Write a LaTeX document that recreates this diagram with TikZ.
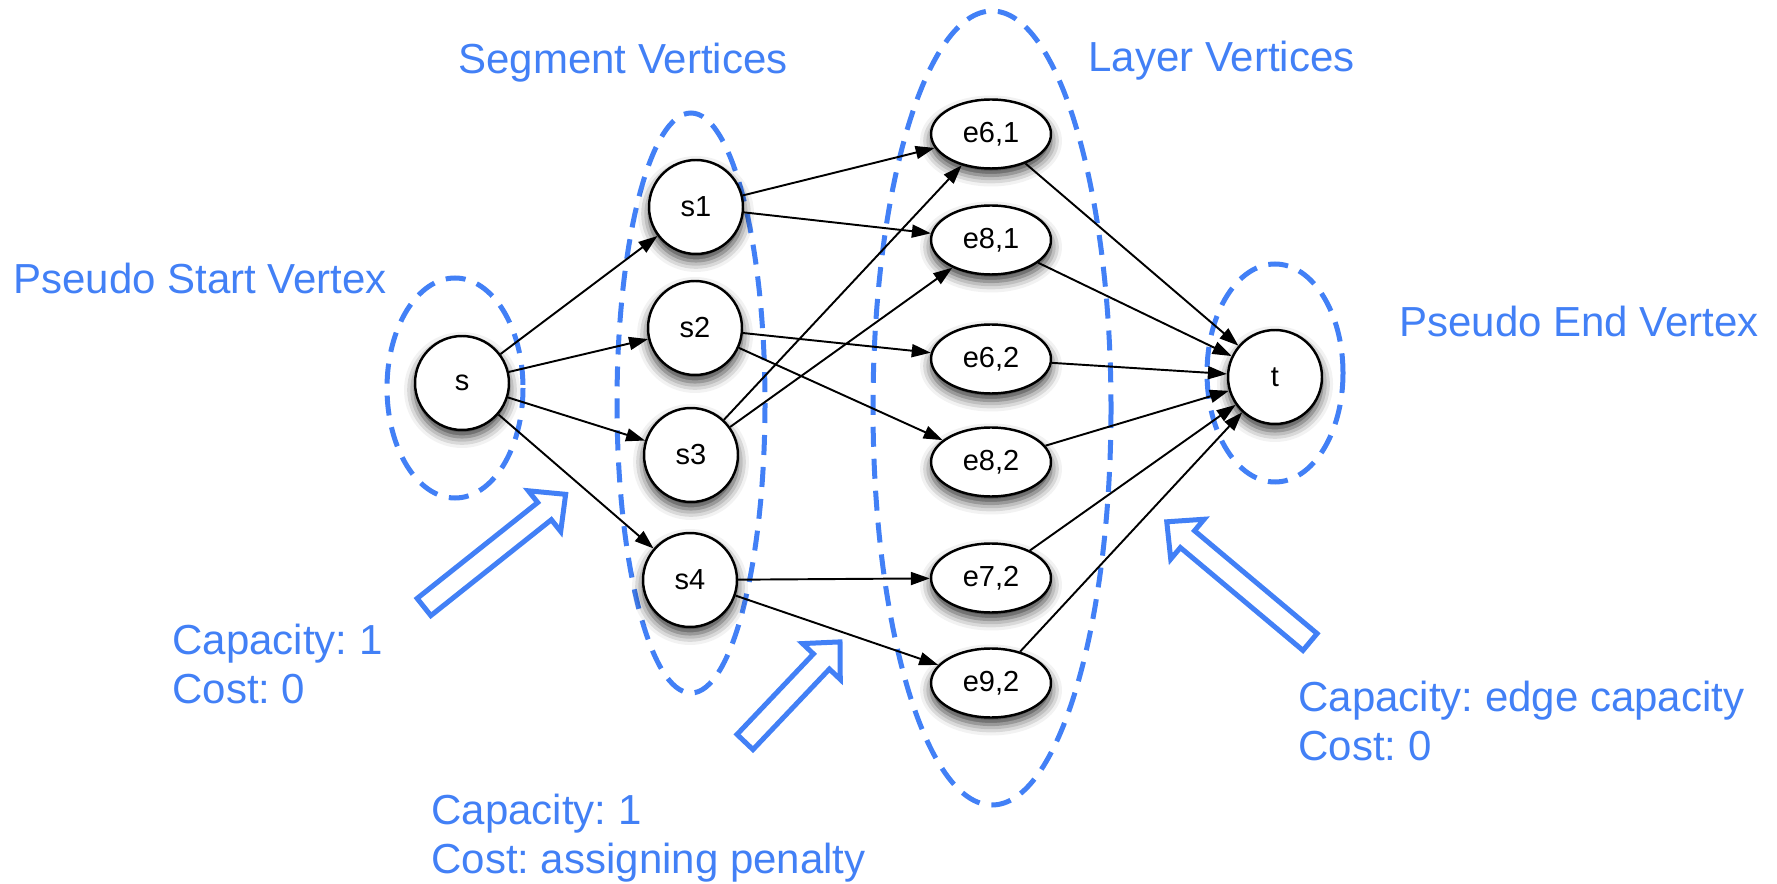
\documentclass[tikz,border=0pt]{standalone}
\usepackage{fontspec}
\setmainfont{Liberation Sans}
\usetikzlibrary{shapes.geometric,arrows.meta,shadows.blur}
\frenchspacing

\definecolor{grpblue}{RGB}{66,128,246}

\begin{document}
\begin{tikzpicture}[
  x=0.02cm, y=-0.02cm,
  vtx/.style={circle, draw, line width=1.4pt, fill=white, inner sep=0pt,
    minimum size=1.88cm, font=\fontsize{16.5}{18}\selectfont,
    blur shadow={shadow xshift=0pt, shadow yshift=-0.14cm, shadow blur radius=0.22cm, shadow opacity=80}},
  lvtx/.style={vtx, ellipse, minimum width=2.4cm, minimum height=1.38cm},
  grp/.style={draw=grpblue, line width=0.1cm, dash pattern=on 0.4cm off 0.24cm},
  lbl/.style={text=grpblue, inner sep=0pt, align=left, anchor=base west,
    font=\fontsize{23.9}{27.6}\selectfont},
  hint/.style={draw=grpblue, line width=0.1cm, fill=white},
  flow/.style={line width=1.1pt, -{Triangle[length=0.38cm,width=0.26cm]}},
]
\useasboundingbox (0,0) rectangle (1777,884);

\draw [grp] (455,388) ellipse [x radius=68, y radius=110];
\draw [grp] (691,403) ellipse [x radius=74, y radius=290];
\draw [grp] (992,408) ellipse [x radius=119, y radius=397];
\draw [grp] (1275,373) ellipse [x radius=68, y radius=109];

\node [vtx] (s) at (462,383) {s};
\node [vtx] (s1) at (696,207) {s1};
\node [vtx] (s2) at (695,328) {s2};
\node [vtx] (s3) at (691,455) {s3};
\node [vtx] (s4) at (690,580) {s4};

\node [lvtx] (e61) at (991,134) {e6,1};
\node [lvtx] (e81) at (991,240) {e8,1};
\node [lvtx] (e62) at (991,359) {e6,2};
\node [lvtx] (e82) at (991,462) {e8,2};
\node [lvtx] (e72) at (991,578) {e7,2};
\node [lvtx] (e92) at (991,683) {e9,2};

\node [vtx] (t) at (1275,377) {t};

\draw [flow] (s) -- (s1);
\draw [flow] (s) -- (s2);
\draw [flow] (s) -- (s3);
\draw [flow] (s) -- (s4);

\draw [flow] (s1) -- (e61);
\draw [flow] (s1) -- (e81);
\draw [flow] (s2) -- (e62);
\draw [flow] (s2) -- (e82);
\draw [flow] (s3) -- (e61);
\draw [flow] (s3) -- (e81);
\draw [flow] (s4) -- (e72);
\draw [flow] (s4) -- (e92);

\draw [flow] (e61) -- (t);
\draw [flow] (e81) -- (t);
\draw [flow] (e62) -- (t);
\draw [flow] (e82) -- (t);
\draw [flow] (e72) -- (t);
\draw [flow] (e92) -- (t);

\draw [hint, shift={(424,607)}, rotate=38.5]
  (0,-11) -- (154,-11) -- (154,-26) -- (181,0) -- (154,26) -- (154,11) -- (0,11) -- cycle;
\draw [hint, shift={(745,742)}, rotate=46.5]
  (0,-11) -- (111,-11) -- (111,-26) -- (138,0) -- (111,26) -- (111,11) -- (0,11) -- cycle;
\draw [hint, shift={(1310,642)}, rotate=140]
  (0,-11) -- (160,-11) -- (160,-26) -- (187,0) -- (160,26) -- (160,11) -- (0,11) -- cycle;

\node [lbl] (segtitle) at (458,74) {Segment Vertices};
\node [lbl] (laytitle) at (1088,72) {Layer Vertices};
\node [lbl] (starttitle) at (13,294) {Pseudo Start Vertex};
\node [lbl] (endtitle) at (1399,337) {Pseudo End Vertex};

\node [lbl] (srccost) at (172,703) {Capacity: 1\\Cost: 0};
\node [lbl] (segcost) at (431,873) {Capacity: 1\\Cost: assigning penalty};
\node [lbl] (sinkcost) at (1298,760) {Capacity: edge capacity\\Cost: 0};

\end{tikzpicture}
\end{document}
